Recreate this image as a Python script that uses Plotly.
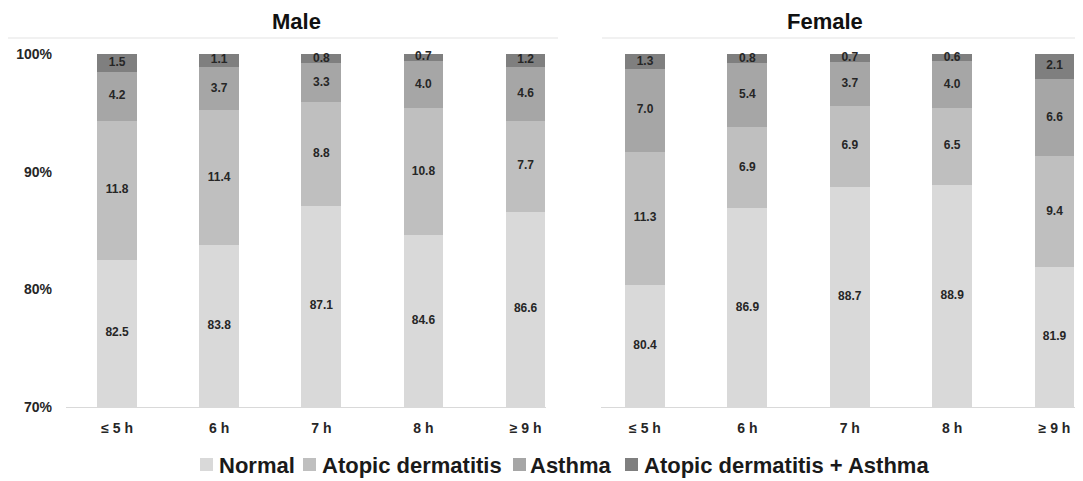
import plotly.graph_objects as go

categories = ["≤ 5 h", "6 h", "7 h", "8 h", "≥ 9 h"]
series_names = ["Normal", "Atopic dermatitis", "Asthma", "Atopic dermatitis + Asthma"]
colors = ["#d9d9d9", "#bfbfbf", "#a6a6a6", "#7f7f7f"]

male_normal = [82.5, 83.8, 87.1, 84.6, 86.6]
male_ad = [11.8, 11.4, 8.8, 10.8, 7.7]
male_asthma = [4.2, 3.7, 3.3, 4.0, 4.6]
male_both = [1.5, 1.1, 0.8, 0.7, 1.2]

female_normal = [80.4, 86.9, 88.7, 88.9, 81.9]
female_ad = [11.3, 6.9, 6.9, 6.5, 9.4]
female_asthma = [7.0, 5.4, 3.7, 4.0, 6.6]
female_both = [1.3, 0.8, 0.7, 0.6, 2.1]

y_ticks = [70, 80, 90, 100]
y_tick_text = ["70%", "80%", "90%", "100%"]
y_min, y_max = 70, 100

male = [male_normal, male_ad, male_asthma, male_both]
female = [female_normal, female_ad, female_asthma, female_both]

# figure geometry (page is offset by the 8px body margin)
W, H = 1075, 473
ML, MR, MT, MB = 50, 0, 46, 74
PW, PH = W - ML - MR, H - MT - MB


def px_x(px):
    return (px - ML) / PW


def px_y(py):
    return (H - MB - py) / PH


FONT = "Liberation Sans"
TXT = "#262626"

fig = go.Figure()
xs = list(range(len(categories)))
for data, xa, ya in [(male, "x", "y"), (female, "x2", "y2")]:
    cum = [0.0] * len(categories)
    mids_all, texts_all, xs_all = [], [], []
    for i, (name, col) in enumerate(zip(series_names, colors)):
        fig.add_trace(go.Bar(
            x=xs, y=data[i], name=name,
            marker=dict(color=col, line=dict(width=0)),
            width=0.39, xaxis=xa, yaxis=ya, showlegend=False, hoverinfo="skip",
        ))
        for j, v in enumerate(data[i]):
            lo = max(cum[j], y_min)
            hi = cum[j] + v
            mids_all.append((lo + hi) / 2)
            texts_all.append(f"{v:.1f}")
            xs_all.append(j)
            cum[j] = hi
    fig.add_trace(go.Scatter(
        x=xs_all, y=mids_all, text=texts_all, mode="text", xaxis=xa, yaxis=ya,
        textfont=dict(family=FONT, size=12, color=TXT, weight="bold"),
        showlegend=False, hoverinfo="skip", cliponaxis=False,
    ))

xtick_font = dict(family=FONT, size=14, color=TXT, weight="bold")
common_x = dict(tickmode="array", tickvals=xs, ticktext=categories,
                showgrid=False, zeroline=False, showline=True, linecolor="#d9d9d9", linewidth=1,
                ticks="", tickfont=xtick_font, fixedrange=True, automargin=False,
                ticklabelstandoff=8)

annotations = [
    dict(text="<b>Male</b>", x=px_x(288), y=px_y(14), xref="paper", yref="paper",
         xanchor="center", yanchor="middle", showarrow=False, borderpad=0,
         font=dict(family=FONT, size=22, color="#111111")),
    dict(text="<b>Female</b>", x=px_x(817), y=px_y(14), xref="paper", yref="paper",
         xanchor="center", yanchor="middle", showarrow=False, borderpad=0,
         font=dict(family=FONT, size=22, color="#111111")),
]
shapes = [
    dict(type="line", xref="paper", yref="paper", x0=px_x(0), x1=px_x(550), y0=px_y(30), y1=px_y(30),
         line=dict(color="#ececec", width=1.5)),
    dict(type="line", xref="paper", yref="paper", x0=px_x(594), x1=1.0, y0=px_y(30), y1=px_y(30),
         line=dict(color="#ececec", width=1.5)),
]

# custom legend (square swatch + label)
legend_sq_x = [192, 295, 505, 617]
legend_txt_x = [209, 312, 520, 634]
for name, col, sx, tx in zip(series_names, colors, legend_sq_x, legend_txt_x):
    shapes.append(dict(type="rect", xref="paper", yref="paper",
                       x0=px_x(sx), x1=px_x(sx + 13), y0=px_y(463), y1=px_y(450),
                       fillcolor=col, line=dict(width=0)))
    annotations.append(dict(text=f"<b>{name}</b>", x=px_x(tx), y=px_y(457), xref="paper", yref="paper",
                            xanchor="left", yanchor="middle", showarrow=False,
                            font=dict(family=FONT, size=22, color="#1a1a1a")))

fig.update_layout(
    barmode="stack",
    width=W, height=H, autosize=False,
    paper_bgcolor="white", plot_bgcolor="white",
    margin=dict(l=ML, r=MR, t=MT, b=MB),
    xaxis=dict(domain=[px_x(58), px_x(538)], range=[-0.5, 4.2], **common_x),
    xaxis2=dict(domain=[px_x(593), px_x(1067)], range=[-0.43, 4.2], anchor="y2", **common_x),
    yaxis=dict(range=[y_min, y_max], tickmode="array", tickvals=y_ticks, ticktext=y_tick_text,
               showgrid=False, zeroline=False, showline=False, ticks="", automargin=False,
               tickfont=dict(family=FONT, size=14, color=TXT, weight="bold"),
               ticklabelstandoff=13, fixedrange=True),
    yaxis2=dict(range=[y_min, y_max], anchor="x2", showticklabels=False, showgrid=False,
                zeroline=False, showline=False, fixedrange=True),
    showlegend=False,
    font=dict(family=FONT),
    annotations=annotations,
    shapes=shapes,
)

fig.write_html("out.html")
